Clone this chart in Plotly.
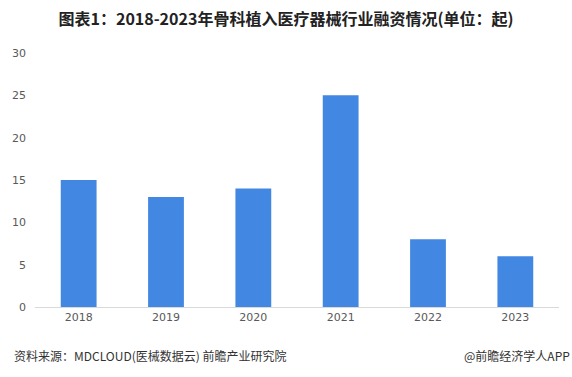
import plotly.graph_objects as go

years = ["2018", "2019", "2020", "2021", "2022", "2023"]
counts = [15, 13, 14, 25, 8, 6]
y_ticks = [0, 5, 10, 15, 20, 25, 30]

fig = go.Figure()
fig.add_trace(go.Bar(x=years, y=counts, marker_color="#4287E2", width=0.41,
                     marker_line_width=0))

fig.update_layout(
    width=572, height=377,
    margin=dict(l=31, r=13, t=53, b=70),
    paper_bgcolor="white", plot_bgcolor="white",
    showlegend=False,
    font=dict(family="DejaVu Sans, sans-serif", size=11, color="#595959"),
    title=dict(text="<b>图表1：2018-2023年骨科植入医疗器械行业融资情况(单位：起)</b>",
               x=0.5, xanchor="center", y=1 - 19/377, yanchor="middle",
               font=dict(family="Noto Sans CJK SC, sans-serif", size=16, color="#222222")),
    xaxis=dict(showline=True, linecolor="#D9D9D9", linewidth=1, ticks="",
               tickfont=dict(size=11, color="#595959")),
    yaxis=dict(range=[0, 30], tickvals=y_ticks, showgrid=False, zeroline=False,
               showline=False, ticks="", ticklabelstandoff=8,
               tickfont=dict(size=11, color="#595959")),
)

fig.add_annotation(text="资料来源：MDCLOUD(医械数据云) 前瞻产业研究院", xref="paper", yref="paper",
                   x=-23/528, y=-(355-307)/254, xanchor="left", yanchor="middle",
                   showarrow=False,
                   font=dict(family="Noto Sans CJK SC, sans-serif", size=12, color="#333333"))
fig.add_annotation(text="@前瞻经济学人APP", xref="paper", yref="paper",
                   x=(572-31)/528, y=-(355-307)/254, xanchor="right", yanchor="middle",
                   showarrow=False,
                   font=dict(family="Noto Sans CJK SC, sans-serif", size=12, color="#333333"))

fig.write_html("out.html", config={"displayModeBar": False},
               post_script="document.body.style.margin='0';document.body.style.overflow='hidden';")
